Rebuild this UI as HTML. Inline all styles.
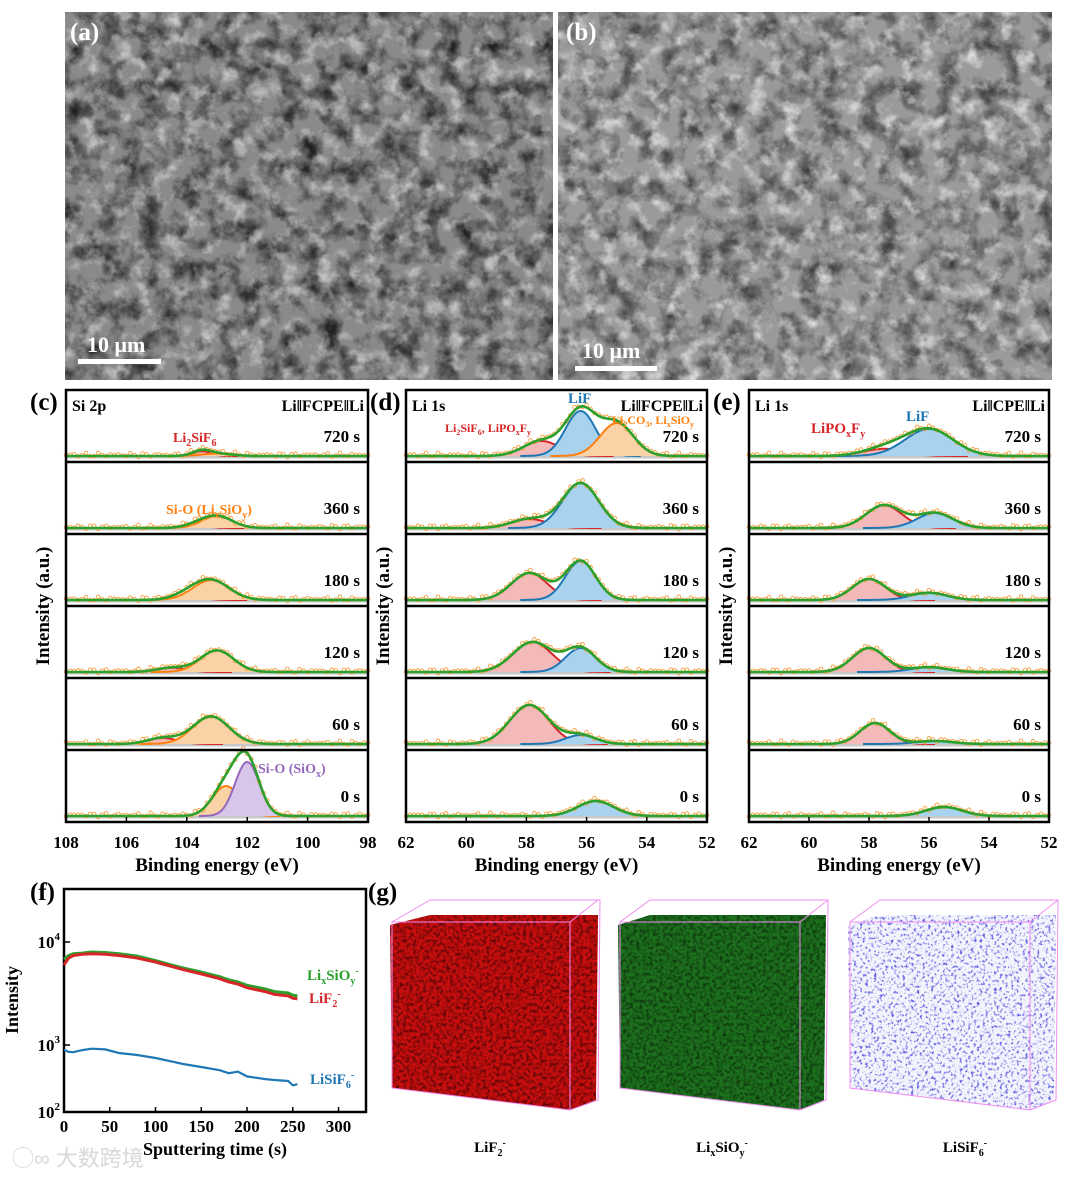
<!DOCTYPE html>
<html><head><meta charset="utf-8"><style>
body{margin:0;background:#fff}
svg{display:block;font-family:"Liberation Serif","Noto Serif CJK SC",serif}
.b{font-weight:bold}
</style></head><body>
<svg id="fig" width="1080" height="1177" viewBox="0 0 1080 1177" xmlns="http://www.w3.org/2000/svg">
<defs>
<filter id="semA" x="0" y="0" width="100%" height="100%"><feTurbulence type="fractalNoise" baseFrequency="0.05" numOctaves="5" seed="3"/><feColorMatrix type="matrix" values="0 0 0 0 0  0 0 0 0 0  0 0 0 0 0  -2.2 0 0 0 1.3"/><feComposite in2="SourceGraphic" operator="in"/></filter>
<filter id="semB" x="0" y="0" width="100%" height="100%"><feTurbulence type="fractalNoise" baseFrequency="0.06" numOctaves="5" seed="7"/><feColorMatrix type="matrix" values="0 0 0 0 1  0 0 0 0 1  0 0 0 0 1  2.6 0 0 0 -1.3"/><feComposite in2="SourceGraphic" operator="in"/></filter>
<filter id="grainD" x="0" y="0" width="100%" height="100%"><feTurbulence type="fractalNoise" baseFrequency="0.3" numOctaves="2" seed="5"/><feColorMatrix type="matrix" values="0 0 0 0 0  0 0 0 0 0  0 0 0 0 0  2.5 0 0 0 -1.0"/><feComposite in2="SourceGraphic" operator="in"/></filter>
<filter id="blueDots" x="0" y="0" width="100%" height="100%"><feTurbulence type="fractalNoise" baseFrequency="0.35" numOctaves="2" seed="9"/><feColorMatrix type="matrix" values="0 0 0 0 0.1  0 0 0 0 0.1  0 0 0 0 0.75  4 0 0 0 -2.1"/><feComposite in2="SourceGraphic" operator="in"/></filter>
</defs>

<!-- SEM a -->
<g>
<rect x="65" y="12" width="488" height="368" fill="#8a8a8a"/>
<rect x="65" y="12" width="488" height="368" fill="#000" filter="url(#semA)" opacity="0.75"/>
<rect x="65" y="12" width="488" height="368" fill="#fff" filter="url(#semB)" opacity="0.6"/>
<text x="70" y="40" fill="#fff" font-size="25" class="b">(a)</text>
<text x="87" y="352" fill="#fff" font-size="22" class="b">10 μm</text>
<rect x="78" y="359" width="83" height="5" fill="#fff"/>
</g>
<g>
<rect x="558" y="12" width="494" height="368" fill="#9a9a9a"/>
<rect x="558" y="12" width="494" height="368" fill="#000" filter="url(#semA)" opacity="0.6"/>
<rect x="558" y="12" width="494" height="368" fill="#fff" filter="url(#semB)" opacity="0.7"/>
<text x="566" y="40" fill="#fff" font-size="25" class="b">(b)</text>
<text x="582" y="358" fill="#fff" font-size="22" class="b">10 μm</text>
<rect x="575" y="366" width="82" height="5" fill="#fff"/>
</g>

<g id="xps"></g>
<g id="tof"></g>

<!-- (g) cubes -->
<g>
<text x="368" y="900" font-size="25" class="b">(g)</text>
<g>
<polygon points="390,925 430,915 598,915 596,1100 570,1110 392,1088" fill="#c80e0e"/>
<polygon points="390,925 430,915 598,915 596,1100 570,1110 392,1088" fill="#000" filter="url(#grainD)" opacity="0.55"/>
<polyline points="392,922 430,900 600,900 598,1100 570,1110 392,1088 392,922 570,922 598,900" fill="none" stroke="#f08cf0" stroke-width="1"/>
<line x1="570" y1="922" x2="570" y2="1110" stroke="#f08cf0"/>
<text x="490" y="1152" font-size="15" class="b" text-anchor="middle">LiF<tspan font-size="10" dy="4">2</tspan><tspan font-size="10" dy="-10">-</tspan></text>
</g>
<g>
<polygon points="618,925 650,915 826,915 824,1100 800,1110 620,1088" fill="#1d701d"/>
<polygon points="618,925 650,915 826,915 824,1100 800,1110 620,1088" fill="#000" filter="url(#grainD)" opacity="0.5"/>
<polyline points="620,922 650,900 828,900 826,1100 800,1110 620,1088 620,922 800,922 828,900" fill="none" stroke="#f08cf0" stroke-width="1"/>
<line x1="800" y1="922" x2="800" y2="1110" stroke="#f08cf0"/>
<text x="722" y="1152" font-size="15" class="b" text-anchor="middle">Li<tspan font-size="10" dy="4">x</tspan><tspan dy="-4">SiO</tspan><tspan font-size="10" dy="4">y</tspan><tspan font-size="10" dy="-10">-</tspan></text>
</g>
<g>
<polygon points="848,925 880,915 1056,915 1054,1100 1030,1110 850,1088" fill="#f4f5fc"/>
<polygon points="848,925 880,915 1056,915 1054,1100 1030,1110 850,1088" fill="#fff" filter="url(#blueDots)"/>
<polyline points="850,922 880,900 1058,900 1056,1100 1030,1110 850,1088 850,922 1030,922 1058,900" fill="none" stroke="#f08cf0" stroke-width="1"/>
<line x1="1030" y1="922" x2="1030" y2="1110" stroke="#f08cf0"/>
<text x="965" y="1152" font-size="15" class="b" text-anchor="middle">LiSiF<tspan font-size="10" dy="4">6</tspan><tspan font-size="10" dy="-10">-</tspan></text>
</g>
</g>
<text x="12" y="1166" font-size="22" fill="#d8d8d8" font-family="Liberation Sans, Noto Sans CJK SC, sans-serif">◯∞ 大数跨境</text>
</svg>
<script>
const NS="http://www.w3.org/2000/svg";
function mk(parent,tag,attrs,text){const e=document.createElementNS(NS,tag);for(const k in attrs)e.setAttribute(k,attrs[k]);if(text!==undefined)e.textContent=text;parent.appendChild(e);return e;}

// ===== XPS data (center eV, amplitude a.u., sigma eV) =====
const timesLabels=["720 s","360 s","180 s","120 s","60 s","0 s"];
const siRed=[[103.5,0.08,0.3],[103.7,0.04,0.4],[104.0,0.06,0.5],[104.5,0.07,0.5],[104.8,0.1,0.5],null];
const siOrange=[[103.0,0.04,0.5],[103.0,0.2,0.5],[103.2,0.33,0.6],[103.0,0.36,0.55],[103.2,0.46,0.6],[102.7,0.5,0.45]];
const siPurple=[null,null,null,null,null,[102.0,0.9,0.4]];
const dRed=[[57.5,0.25,0.6],[57.9,0.15,0.6],[57.9,0.45,0.6],[57.8,0.5,0.65],[57.9,0.65,0.65],null];
const dBlue=[[56.2,0.75,0.5],[56.2,0.75,0.6],[56.2,0.65,0.5],[56.2,0.4,0.5],[56.2,0.15,0.5],[55.7,0.25,0.6]];
const dOrange=[[55.0,0.55,0.55],null,null,null,null,null];
const eRed=[[57.5,0.12,0.7],[57.5,0.38,0.6],[58.0,0.35,0.55],[58.0,0.4,0.55],[57.8,0.35,0.5],null];
const eBlue=[[56.0,0.45,0.8],[55.8,0.25,0.6],[56.0,0.12,0.6],[56.0,0.08,0.6],[55.8,0.05,0.6],[55.5,0.15,0.6]];

const cols={red:["#d62728","#f4b9b9"],blue:["#1f77b4","#a8d2ee"],orange:["#ff7f0e","#fbd2a6"],purple:["#9467bd","#d8c6ea"]};
const xps=document.getElementById('xps');
const TOP=390,SUBH=72,UNIT=60;

function panel(cfg){
  const g=mk(xps,'g',{});
  
  
  const X=v=>cfg.x0+(cfg.e0-v)/(cfg.e0-cfg.e1)*(cfg.x1-cfg.x0);
  for(let i=0;i<6;i++){
    const top=TOP+i*SUBH, base=top+SUBH-6;
    const sg=mk(g,'g',{});
    
    
    const comps=cfg.comps.map(c=>({p:c.arr[i],col:c.col})).filter(c=>c.p);
    const N=150, step=(cfg.e0-cfg.e1)/N;
    const Y=(v)=>base-v*UNIT;
    mk(sg,'line',{x1:cfg.x0,x2:cfg.x1,y1:base+1,y2:base+1,stroke:'#c8c8c8','stroke-width':3});
    comps.forEach(c=>{
      const [m,a,s]=c.p; let pts=[];
      for(let k=0;k<=N;k++){const e=m+4*s-k*8*s/N;pts.push([X(e),Y(a*Math.exp(-((e-m)**2)/(2*s*s)))]);}
      const d='M'+pts.map(p=>p[0].toFixed(1)+','+p[1].toFixed(1)).join('L');
      mk(sg,'path',{d:d+'Z',fill:cols[c.col][1],stroke:'none'});
      const l=mk(sg,'path',{d:d,fill:'none',stroke:cols[c.col][0],'stroke-width':2});
      
      
    });
    let tp=[],cp='';
    for(let k=0;k<=N;k++){const e=cfg.e0-k*step;let v=0;comps.forEach(c=>{const [m,a,s]=c.p;v+=a*Math.exp(-((e-m)**2)/(2*s*s));});tp.push([X(e),Y(v)]);
      if(k%2==0){const j=2.2*Math.sin(k*1.7+i*3)*Math.cos(k*0.6);cp+=`M${(X(e)-1.8).toFixed(1)},${(Y(v)+j-1).toFixed(1)}a1.8,1.8 0 1,0 3.6,0a1.8,1.8 0 1,0 -3.6,0`;}}
    mk(sg,'path',{d:cp,fill:'none',stroke:'#f5a040','stroke-width':0.9});
    const t=mk(sg,'path',{d:'M'+tp.map(p=>p[0].toFixed(1)+','+p[1].toFixed(1)).join('L'),fill:'none',stroke:'#2ca02c','stroke-width':2.6});
    
    
    const tl=mk(sg,'text',{x:cfg.x1-8,y:top+52,'text-anchor':'end','font-size':17,class:'b'},timesLabels[i]);
    
    
    if(i>0){mk(g,'line',{x1:cfg.x0,x2:cfg.x1,y1:top,y2:top,stroke:'#000','stroke-width':2.5});}
  }
  mk(g,'rect',{x:cfg.x0,y:TOP,width:cfg.x1-cfg.x0,height:6*SUBH,fill:'none',stroke:'#000','stroke-width':2.5});
  for(let e=cfg.e0;e>=cfg.e1;e-=2){
    mk(g,'line',{x1:X(e),x2:X(e),y1:TOP+6*SUBH,y2:TOP+6*SUBH-5,stroke:'#000','stroke-width':1.5});
    const tk=mk(g,'text',{x:X(e),y:848,'text-anchor':'middle','font-size':17,class:'b'},String(e));
    
    
  }
  const xt=mk(g,'text',{x:(cfg.x0+cfg.x1)/2,y:871,'text-anchor':'middle','font-size':19,class:'b'},'Binding energy (eV)');
  
  
  const yx=cfg.x0-17;
  const yt=mk(g,'text',{x:yx,y:606,'text-anchor':'middle','font-size':19,class:'b',transform:`rotate(-90 ${yx} 606)`},'Intensity (a.u.)');
  
  
  const pl=mk(g,'text',{x:cfg.x0-36,y:410,'font-size':25,class:'b'},cfg.letter);
  
  
  mk(g,'text',{x:cfg.x0+6,y:411,'font-size':16,class:'b'},cfg.core);
  mk(g,'text',{x:cfg.x1-4,y:411,'font-size':16,class:'b','text-anchor':'end'},cfg.cell);
  cfg.ann.forEach(a=>{const t=mk(g,'text',{x:a[0],y:a[1],'font-size':a[4]||14,class:'b',fill:a[3]});t.innerHTML=a[2];});
}
panel({name:'panel-c-si2p',letter:'(c)',core:'Si 2p',cell:'Li‖FCPE‖Li',x0:66,x1:368,e0:108,e1:98,
  comps:[{arr:siRed,col:'red'},{arr:siOrange,col:'orange'},{arr:siPurple,col:'purple'}],
  ann:[[173,442,'Li<tspan font-size="10" dy="4">2</tspan><tspan dy="-4">SiF</tspan><tspan font-size="10" dy="4">6</tspan>','#d62728'],
       [166,514,'Si-O (Li<tspan font-size="10" dy="4">x</tspan><tspan dy="-4">SiO</tspan><tspan font-size="10" dy="4">y</tspan><tspan dy="-4">)</tspan>','#ff7f0e'],
       [258,773,'Si-O (SiO<tspan font-size="10" dy="4">x</tspan><tspan dy="-4">)</tspan>','#9467bd']]});
panel({name:'panel-d-li1s-fcpe',letter:'(d)',core:'Li 1s',cell:'Li‖FCPE‖Li',x0:406,x1:707,e0:62,e1:52,
  comps:[{arr:dRed,col:'red'},{arr:dBlue,col:'blue'},{arr:dOrange,col:'orange'}],
  ann:[[445,432,'Li<tspan font-size="8" dy="3">2</tspan><tspan dy="-3">SiF</tspan><tspan font-size="8" dy="3">6</tspan><tspan dy="-3">, LiPO</tspan><tspan font-size="8" dy="3">x</tspan><tspan dy="-3">F</tspan><tspan font-size="8" dy="3">y</tspan>','#d62728',12],
       [568,403,'LiF','#1f77b4',15],
       [612,424,'Li<tspan font-size="8" dy="3">2</tspan><tspan dy="-3">CO</tspan><tspan font-size="8" dy="3">3</tspan><tspan dy="-3">, Li</tspan><tspan font-size="8" dy="3">x</tspan><tspan dy="-3">SiO</tspan><tspan font-size="8" dy="3">y</tspan>','#ff7f0e',12]]});
panel({name:'panel-e-li1s-cpe',letter:'(e)',core:'Li 1s',cell:'Li‖CPE‖Li',x0:749,x1:1049,e0:62,e1:52,
  comps:[{arr:eRed,col:'red'},{arr:eBlue,col:'blue'}],
  ann:[[811,433,'LiPO<tspan font-size="10" dy="4">x</tspan><tspan dy="-4">F</tspan><tspan font-size="10" dy="4">y</tspan>','#d62728',15],
       [906,421,'LiF','#1f77b4',15]]});

// ===== (f) ToF-SIMS depth profile =====
const tofTime=[0,5,10,20,30,45,60,80,100,120,130,150,170,180,190,200,220,230,245,250,255];
const lixsioy=[6800,7400,7700,7800,8000,7900,7700,7300,6600,5900,5600,5100,4600,4300,4100,3800,3500,3300,3200,3050,3000];
const lif2=[6000,7000,7400,7600,7700,7600,7400,7000,6400,5700,5400,4900,4400,4100,3900,3600,3300,3100,3000,2850,2800];
const lisif6=[850,790,780,840,880,860,760,710,640,560,520,470,420,380,400,340,310,300,290,250,260];
const xTicks=[0,50,100,150,200,250,300];
const yTickExp=[2,3,4];
(function(){
  const g=document.getElementById('tof');
  
  
  const x0=64,x1=366,y0=889,y1=1112;
  const X=t=>x0+t/330*(x1-x0);
  const Y=v=>{const l=Math.log10(v);return l<3? 1112-(l-2)*67 : 1045-(l-3)*103;};
  mk(g,'rect',{x:x0,y:y0,width:x1-x0,height:y1-y0,fill:'none',stroke:'#000','stroke-width':2.5});
  xTicks.forEach(t=>{mk(g,'line',{x1:X(t),x2:X(t),y1:y1,y2:y1-5,stroke:'#000','stroke-width':1.5});
    const tx=mk(g,'text',{x:X(t),y:1132,'text-anchor':'middle','font-size':17,class:'b'},String(t));
    
    });
  yTickExp.forEach(p=>{const y=Y(Math.pow(10,p));mk(g,'line',{x1:x0,x2:x0+6,y1:y,y2:y,stroke:'#000','stroke-width':1.5});
    const tx=mk(g,'text',{x:x0-4,y:y+6,'text-anchor':'end','font-size':17,class:'b'});
    tx.innerHTML='10<tspan font-size="11" dy="-8">'+p+'</tspan>';
    
    });
  [[lixsioy,'#2ca02c','line-lixsioy'],[lif2,'#d62728','line-lif2'],[lisif6,'#1f77b4','line-lisif6']].forEach(s=>{
    const p=mk(g,'polyline',{points:tofTime.map((t,i)=>X(t).toFixed(1)+','+Y(s[0][i]).toFixed(1)).join(' '),fill:'none',stroke:s[1],'stroke-width':s[2]=='line-lisif6'?2.2:3});
    
    });
  const l1=mk(g,'text',{x:307,y:980,'font-size':15,class:'b',fill:'#2ca02c'});l1.innerHTML='Li<tspan font-size="10" dy="4">x</tspan><tspan dy="-4">SiO</tspan><tspan font-size="10" dy="4">y</tspan><tspan font-size="10" dy="-10">-</tspan>';
  
  
  const l2=mk(g,'text',{x:309,y:1003,'font-size':15,class:'b',fill:'#d62728'});l2.innerHTML='LiF<tspan font-size="10" dy="4">2</tspan><tspan font-size="10" dy="-10">-</tspan>';
  
  
  const l3=mk(g,'text',{x:310,y:1084,'font-size':15,class:'b',fill:'#1f77b4'});l3.innerHTML='LiSiF<tspan font-size="10" dy="4">6</tspan><tspan font-size="10" dy="-10">-</tspan>';
  
  
  const xt=mk(g,'text',{x:215,y:1155,'text-anchor':'middle','font-size':18,class:'b'},'Sputtering time (s)');
  
  
  const yt=mk(g,'text',{x:18,y:1000,'text-anchor':'middle','font-size':18,class:'b',transform:'rotate(-90 18 1000)'},'Intensity');
  
  
  const pl=mk(g,'text',{x:30,y:900,'font-size':25,class:'b'},'(f)');
  
  
})();
</script>
</body></html>
